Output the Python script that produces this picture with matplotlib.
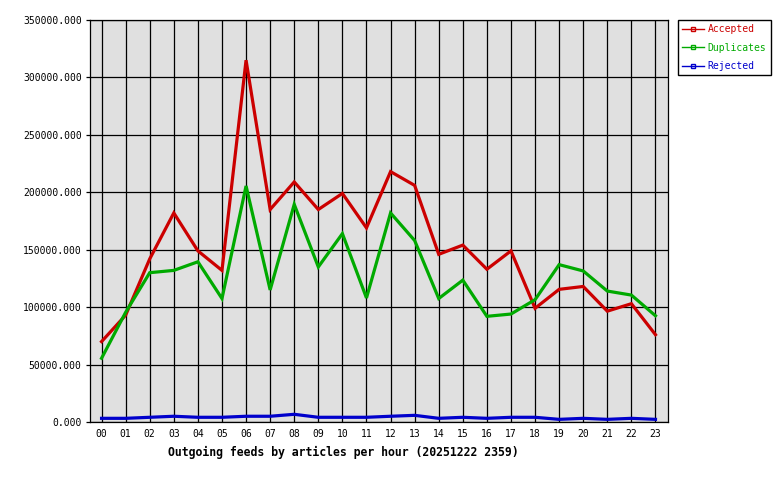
import matplotlib
matplotlib.use("Agg")
import matplotlib.pyplot as plt
from matplotlib.lines import Line2D
from matplotlib.ticker import FuncFormatter

hours = ["00", "01", "02", "03", "04", "05", "06", "07", "08", "09", "10", "11",
         "12", "13", "14", "15", "16", "17", "18", "19", "20", "21", "22", "23"]

accepted = [70000, 93000, 142000, 182000, 149000, 132000, 315000, 185000, 209000, 185000,
            199000, 169000, 218000, 206000, 146000, 154000, 133000, 149000, 99000, 115500,
            118000, 96500, 103000, 76000]
duplicates = [55500, 95500, 130000, 132000, 139500, 107500, 205500, 115000, 189500, 135000,
              164000, 108000, 182000, 158000, 107500, 123500, 92000, 94000, 106500, 137000,
              131500, 114000, 110500, 92500]
rejected = [3200, 3200, 4100, 5000, 4100, 4100, 5000, 5000, 6700, 4100, 4100, 4100,
            5000, 5800, 3200, 4100, 3200, 4100, 4100, 2300, 3200, 2300, 3200, 2300]

series = [("Accepted", accepted, "#cc0000"),
          ("Duplicates", duplicates, "#00aa00"),
          ("Rejected", rejected, "#0000cc")]

mono = "DejaVu Sans Mono"
plt.rcParams["font.family"] = mono

fig = plt.figure(figsize=(7.8, 4.8), dpi=100)
ax = fig.add_axes([90 / 780, 1 - 422 / 480, 578 / 780, 402 / 480])
ax.set_facecolor("#e0e0e0")

x = list(range(len(hours)))
handles = []
for name, vals, col in series:
    ax.plot(x, vals, color=col, linewidth=2.3, solid_joinstyle="miter", zorder=3)
    handles.append(Line2D([0], [0], color=col, linewidth=1, marker="s", markersize=3,
                          markerfacecolor="none", markeredgecolor=col, label=name))

ax.set_xlim(-0.48, 23.52)
ax.set_ylim(0, 350000)
ax.set_xticks(x)
ax.set_xticklabels(hours)
ax.set_yticks(range(0, 350001, 50000))
ax.yaxis.set_major_formatter(FuncFormatter(lambda v, p: f"{v:.3f}"))
ax.grid(True, color="black", linewidth=0.9)
ax.set_axisbelow(True)
ax.tick_params(axis="x", length=0, pad=5, labelsize=7)
ax.tick_params(axis="y", length=3, width=0.9, pad=3, labelsize=7)
for s in ax.spines.values():
    s.set_linewidth(0.9)

fig.text(343 / 780, 1 - 452 / 480, "Outgoing feeds by articles per hour (20251222 2359)",
         ha="center", va="center", fontsize=8.3, fontweight="bold")

leg = fig.legend(handles=handles, loc="upper left", bbox_to_anchor=(678 / 780, 1 - 20 / 480),
                 borderaxespad=0, fontsize=7, handlelength=2.2, handletextpad=0.4,
                 labelspacing=0.85, borderpad=0.45, fancybox=False, framealpha=1)
leg.get_frame().set_edgecolor("black")
leg.get_frame().set_linewidth(1)
for t, (_, _, col) in zip(leg.get_texts(), series):
    t.set_color(col)

fig.savefig("out.png", dpi=100)
